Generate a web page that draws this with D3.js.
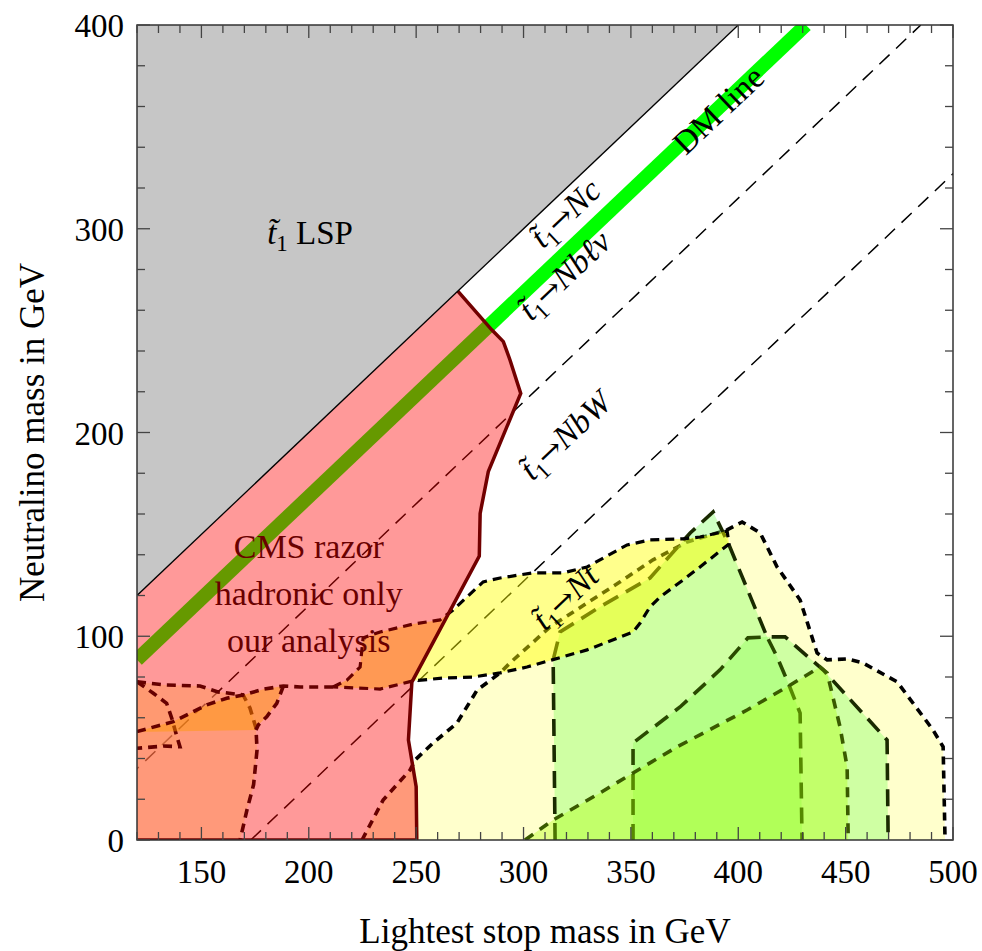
<!DOCTYPE html>
<html>
<head>
<meta charset="utf-8">
<style>
  body { margin: 0; background: #ffffff; }
  svg text { font-family: "Liberation Serif", "DejaVu Serif", serif; }
</style>
</head>
<body>
<div id="chart"></div>
<script src="https://cdn.jsdelivr.net/npm/d3@7/dist/d3.min.js"></script>
<script>
// x = lightest stop mass, y = neutralino mass (GeV)
var xTicks = [150, 200, 250, 300, 350, 400, 450, 500];
var yTicks = [0, 100, 200, 300, 400];

// stop LSP triangle and kinematic thresholds (N = t - offset)
var lspZone = [[120, 120], [400, 400], [120, 400]];
var diagonal = [[120, 120], [400, 400]];
var kinOffsets = [85, 173];
var dmLine = [[120, 88.5], [431.5, 400]];

// CMS razor hadronic, our analysis
var razor = [[120, 0], [120, 120], [269.4, 269.4], [285.2, 250.4], [290.6, 244.6], [293.7, 235.6],
  [298.7, 219.2], [283.6, 180.8], [279.8, 160.3], [279.4, 139.4], [248, 77.5], [246.4, 49.1],
  [250, 26.2], [250.3, 0]];

// other exclusion contours
var paleZone = [[224.8, 0], [234.6, 19.6], [247.2, 34.4], [249.5, 39.3], [257.9, 47.6], [269.0, 57.4],
  [278.4, 73.6], [289.1, 82.0], [293.7, 86.9], [312.4, 104.6], [329.6, 116.3], [345.0, 126.7],
  [360.3, 137.5], [376.2, 146.3], [394.8, 152.2], [401.8, 156.1], [410.2, 150.7], [418.1, 134.0],
  [428.8, 117.8], [436.7, 91.8], [441.4, 88.4], [450.7, 88.9], [458.1, 86.9], [474.0, 77.6],
  [490.7, 54.0], [495.4, 45.7], [496.3, 0]];
var mintZone = [[314.7, 0], [313.8, 88.4], [317.0, 102.1], [335.6, 114.4], [358.9, 128.6],
  [377.6, 150.7], [388.3, 161.0], [395.3, 145.8], [413.4, 99.7], [421.8, 99.7], [439.5, 83.5],
  [469.3, 49.1], [469.8, 0]];
var greenZone = [[351.0, 0], [351.0, 47.6], [372.9, 65.3], [391.5, 83.5], [404.5, 99.2], [413.4, 99.7],
  [418.1, 89.8], [422.7, 78.5], [428.8, 62.3], [429.7, 0]];
var limeZone = [[300.7, 0], [313.8, 9.8], [335.6, 23.1], [351.0, 32.9], [371.5, 45.7], [404.1, 63.8],
  [422.7, 75.1], [438.1, 84.9], [441.4, 82.0], [447.4, 55.5], [450.7, 35.8], [451.2, 0]];
var topZone = [[211.3, 75.1], [217.8, 78.5], [223.9, 84.9], [225.3, 99.2], [233.2, 102.1], [248.6, 106.0],
  [261.1, 108.0], [267.2, 112.9], [281.2, 126.7], [289.1, 128.6], [304.4, 131.1], [318.4, 131.1],
  [329.6, 134.0], [348.2, 144.8], [358.9, 147.3], [374.3, 147.8], [382.2, 148.7], [394.8, 151.7],
  [395.7, 145.3], [382.2, 134.0], [374.3, 127.6], [363.6, 119.3], [358.9, 114.4], [354.3, 106.5],
  [351.0, 102.1], [329.6, 93.3], [313.3, 88.4], [301.6, 84.9], [289.1, 82.0], [276.5, 80.0],
  [262.5, 79.5], [248.6, 78.1], [233.2, 74.1], [211.3, 75.1]];
var lowA = [[120, 77.6], [133.0, 76.1], [149.3, 75.6], [157.7, 72.7], [169.4, 71.2], [172.6, 64.8],
  [175.4, 55.0], [175.9, 44.2], [174.3, 27.2], [171.2, 14.7], [168.0, 0]];
var lowC = [[120, 77.7], [127.6, 72.0], [133.8, 67.1], [136.2, 59.7], [137.7, 54.0], [140.0, 45.8],
  [132.2, 46.1], [120, 45.0]];
var lowBTop = [[120, 53.2], [136.9, 58.1], [152.5, 66.3], [161.8, 69.6], [169.5, 71.2], [178.9, 74.0],
  [188.2, 75.6], [196.0, 75.1], [211.3, 75.1]];
var lowBSide = [[188.2, 75.6], [185.1, 67.1], [180.4, 60.5], [176.5, 56.5], [175.4, 54.0], [120, 53.0]];

var x = d3.scaleLinear().domain([120, 500]).range([137, 953]);
var y = d3.scaleLinear().domain([0, 400]).range([840, 25]);
var line = d3.line().x(function(d){ return x(d[0]); }).y(function(d){ return y(d[1]); });
var angle = Math.atan((y(0) - y(100)) / (x(220) - x(120))) * 180 / Math.PI;

var svg = d3.select("#chart").append("svg")
    .attr("width", 982)
    .attr("height", 951);

svg.append("defs").append("clipPath").attr("id", "clip")
  .append("rect")
    .attr("x", x(120)).attr("y", y(400))
    .attr("width", x(500) - x(120)).attr("height", y(0) - y(400));

var plot = svg.append("g").attr("clip-path", "url(#clip)");

plot.append("path")
    .attr("d", line(lspZone) + "Z")
    .attr("fill", "#c6c6c6");

kinOffsets.forEach(function(o){
  plot.append("path")
      .attr("d", line([[o, 0], [o + 400, 400]]))
      .attr("fill", "none")
      .attr("stroke", "#000")
      .attr("stroke-width", 1.5)
      .attr("stroke-dasharray", "14,9");
});

plot.append("path")
    .attr("d", line(dmLine))
    .attr("stroke", "#00ff00")
    .attr("stroke-width", 14)
    .attr("fill", "none");

// contours: fill then dashed outline, later ones tint earlier ones
var zones = [
  {fill: paleZone, edges: [paleZone], color: "#ffff99", op: 0.5, stroke: "#000", dash: "8,6", sw: 3.6},
  {fill: lowA.concat([[120, 0]]), edges: [lowA], color: "#ffff99", op: 0.5, stroke: "#000", dash: "9,6", sw: 3.6},
  {fill: lowC, edges: [lowC], color: "#ffff99", op: 0.3, stroke: "#000", dash: "9,6", sw: 3.6},
  {fill: mintZone, edges: [mintZone], color: "#88ff66", op: 0.4, stroke: "#1a2a00", dash: "17,9", sw: 3.6},
  {fill: greenZone, edges: [greenZone], color: "#66ff33", op: 0.25, stroke: "#2a4a00", dash: "16,9", sw: 3.6},
  {fill: limeZone, edges: [limeZone], color: "#aaff00", op: 0.35, stroke: "#3a5a00", dash: "10,8", sw: 3.6},
  {fill: topZone, edges: [topZone], color: "#ffff00", op: 0.45, stroke: "#000", dash: "9,6", sw: 3.2},
  {fill: lowBTop.slice(0, 7).concat(lowBSide.slice(1)), edges: [lowBTop, lowBSide.slice(0, 5)],
    color: "#ffff00", op: 0.45, stroke: "#000", dash: "9,6", sw: 3.6}
];

zones.forEach(function(z){
  plot.append("path")
      .attr("d", line(z.fill) + "Z")
      .attr("fill", z.color)
      .attr("fill-opacity", z.op);
  z.edges.forEach(function(e){
    plot.append("path")
        .attr("d", line(e))
        .attr("fill", "none")
        .attr("stroke", z.stroke)
        .attr("stroke-width", z.sw)
        .attr("stroke-dasharray", z.dash);
  });
});

plot.append("path")
    .attr("d", line(razor) + "Z")
    .attr("fill", "#ff0000")
    .attr("fill-opacity", 0.4);

plot.append("path")
    .attr("d", line(razor.slice(2).concat([[120, 0]])))
    .attr("fill", "none")
    .attr("stroke", "#720000")
    .attr("stroke-width", 3.5);

plot.append("path")
    .attr("d", line(diagonal))
    .attr("stroke", "#000")
    .attr("stroke-width", 1.3);

// labels
var fs = 33;
function stopLabel(pos, tail, italicTail) {
  var t = svg.append("text")
      .attr("transform", "translate(" + x(pos[0]) + "," + y(pos[1]) + ") rotate(" + (-angle) + ")")
      .attr("text-anchor", "middle")
      .attr("font-size", fs)
      .attr("dy", "0.35em");
  if (italicTail === null) { t.text(tail); return; }
  t.append("tspan").attr("font-style", "italic").text("t\u0303");
  t.append("tspan").attr("font-size", fs * 0.7).attr("dy", 7).text("1");
  t.append("tspan").attr("dy", -7).style("font-family", "'DejaVu Serif'").attr("font-size", fs * 0.9).text("\u2192");
  t.append("tspan").attr("font-style", "italic").text(italicTail);
}
stopLabel([319.3, 307.8], "", "Nc");
stopLabel([318.9, 277.4], "", "Nb\u2113\u03bd");
stopLabel([319.3, 198.8], "", "NbW");
stopLabel([319.3, 119.3], "", "Nt");
stopLabel([390.6, 358.4], "DM line", null);

var lsp = svg.append("text")
    .attr("x", x(200.6)).attr("y", y(292.6))
    .attr("text-anchor", "middle")
    .attr("font-size", fs);
lsp.append("tspan").attr("font-style", "italic").text("t\u0303");
lsp.append("tspan").attr("font-size", fs * 0.7).attr("dy", 7).text("1");
lsp.append("tspan").attr("dy", -7).text(" LSP");

var cmsLines = ["CMS razor", "hadronic only", "our analysis"];
var cmsBase = [138.4, 115.4, 92.3];
svg.selectAll("text.cms").data(cmsLines).enter().append("text")
    .attr("class", "cms")
    .attr("x", x(200))
    .attr("y", function(d, i){ return y(cmsBase[i]); })
    .attr("text-anchor", "middle")
    .attr("font-size", 34)
    .attr("fill", "#6a0000")
    .text(function(d){ return d; });

// frame and ticks
var frame = svg.append("g");
frame.append("rect")
    .attr("x", x(120)).attr("y", y(400))
    .attr("width", x(500) - x(120)).attr("height", y(0) - y(400))
    .attr("fill", "none")
    .attr("stroke", "#333")
    .attr("stroke-width", 1.5);

d3.range(120, 501, 10).forEach(function(v){
  var len = v % 50 === 0 ? 13 : 8;
  frame.append("line").attr("x1", x(v)).attr("x2", x(v)).attr("y1", y(0)).attr("y2", y(0) - len)
      .attr("stroke", "#444").attr("stroke-width", 1.3);
  frame.append("line").attr("x1", x(v)).attr("x2", x(v)).attr("y1", y(400)).attr("y2", y(400) + len)
      .attr("stroke", "#444").attr("stroke-width", 1.3);
});
d3.range(0, 401, 20).forEach(function(v){
  var len = v % 100 === 0 ? 13 : 8;
  frame.append("line").attr("y1", y(v)).attr("y2", y(v)).attr("x1", x(120)).attr("x2", x(120) + len)
      .attr("stroke", "#444").attr("stroke-width", 1.3);
  frame.append("line").attr("y1", y(v)).attr("y2", y(v)).attr("x1", x(500)).attr("x2", x(500) - len)
      .attr("stroke", "#444").attr("stroke-width", 1.3);
});

svg.selectAll("text.xt").data(xTicks).enter().append("text")
    .attr("class", "xt")
    .attr("x", function(d){ return x(d); })
    .attr("y", 883)
    .attr("text-anchor", "middle")
    .attr("font-size", fs)
    .text(function(d){ return d; });

svg.selectAll("text.yt").data(yTicks).enter().append("text")
    .attr("class", "yt")
    .attr("x", 124)
    .attr("y", function(d){ return y(d) + 12; })
    .attr("text-anchor", "end")
    .attr("font-size", fs)
    .text(function(d){ return d; });

svg.append("text")
    .attr("x", (x(120) + x(500)) / 2)
    .attr("y", 943)
    .attr("text-anchor", "middle")
    .attr("font-size", 35)
    .text("Lightest stop mass in GeV");

svg.append("text")
    .attr("transform", "translate(44," + (y(0) + y(400)) / 2 + ") rotate(-90)")
    .attr("text-anchor", "middle")
    .attr("font-size", 35)
    .text("Neutralino mass in GeV");
</script>
</body>
</html>
